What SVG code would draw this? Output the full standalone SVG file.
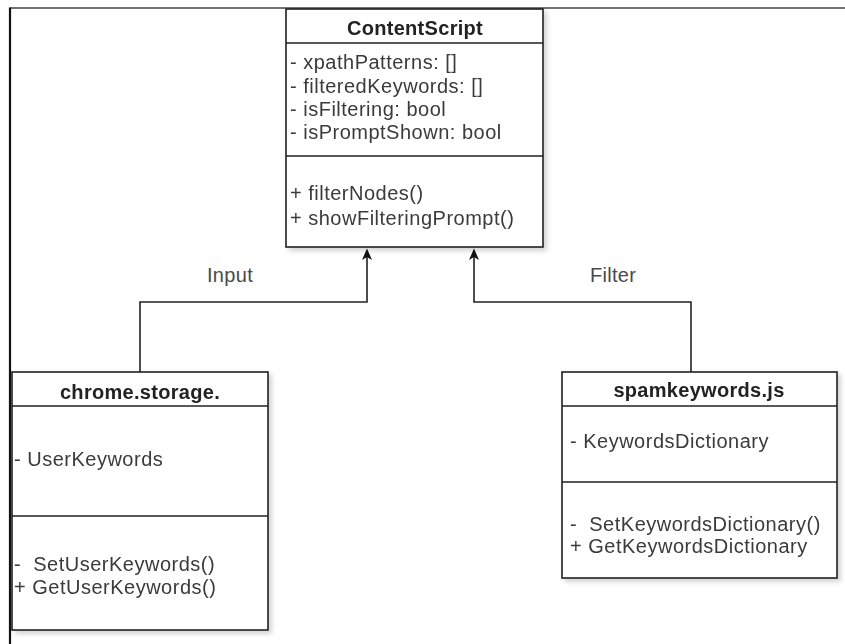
<svg xmlns="http://www.w3.org/2000/svg" width="845" height="644" viewBox="0 0 845 644">
  <style>
    .box { fill: #ffffff; stroke: #222222; stroke-width: 1.6; }
    .sep { stroke: #222222; stroke-width: 1.6; }
    .title { font-family: "Liberation Sans", Arial, sans-serif; font-size: 20px; font-weight: bold; letter-spacing: 0.3px; fill: #222222; text-anchor: middle; }
    .txt { font-family: "Liberation Sans", Arial, sans-serif; font-size: 20px; letter-spacing: 0.5px; fill: #3a3a3a; white-space: pre; }
    .lbl { font-family: "Liberation Sans", Arial, sans-serif; font-size: 20px; letter-spacing: 0.3px; fill: #4a4a4a; text-anchor: middle; }
    .edge { fill: none; stroke: #222222; stroke-width: 1.6; }
    .head { fill: #111111; }
  </style>
  <defs>
    <filter id="shadow" x="-10%" y="-10%" width="130%" height="130%">
      <feGaussianBlur in="SourceAlpha" stdDeviation="2.5"/>
      <feOffset dx="3" dy="3"/>
      <feComponentTransfer><feFuncA type="linear" slope="0.18"/></feComponentTransfer>
      <feMerge><feMergeNode/><feMergeNode in="SourceGraphic"/></feMerge>
    </filter>
  </defs>

  <rect x="0" y="0" width="845" height="644" fill="#ffffff"/>

  <!-- page frame -->
  <g id="frame">
    <line x1="10" y1="8" x2="845" y2="8" stroke="#444444" stroke-width="1.5"/>
    <line x1="10" y1="7.5" x2="10" y2="644" stroke="#111111" stroke-width="2.2"/>
  </g>

  <!-- connectors -->
  <g id="connectors">
    <path class="edge" d="M140,372 L140,302 L367,302 L367,255"/>
    <path class="edge" d="M691,372 L691,302 L474,302 L474,255"/>
    <path class="head" d="M367,248.5 L372,260 L367,257 L362,260 Z"/>
    <path class="head" d="M474,248.5 L479,260 L474,257 L469,260 Z"/>
    <text class="lbl" x="230" y="282">Input</text>
    <text class="lbl" x="613" y="282">Filter</text>
  </g>

  <!-- ContentScript class -->
  <g id="content-script" filter="url(#shadow)">
    <rect class="box" x="286" y="9" width="257" height="238"/>
    <line class="sep" x1="286" y1="43" x2="543" y2="43"/>
    <line class="sep" x1="286" y1="156" x2="543" y2="156"/>
    <text class="title" x="415" y="35">ContentScript</text>
    <text class="txt" x="290" y="69">- xpathPatterns: []</text>
    <text class="txt" x="290" y="93">- filteredKeywords: []</text>
    <text class="txt" x="290" y="116">- isFiltering: bool</text>
    <text class="txt" x="290" y="139">- isPromptShown: bool</text>
    <text class="txt" x="290" y="200">+ filterNodes()</text>
    <text class="txt" x="290" y="225">+ showFilteringPrompt()</text>
  </g>

  <!-- chrome.storage class -->
  <g id="chrome-storage" filter="url(#shadow)">
    <rect class="box" x="12" y="372" width="256" height="258"/>
    <line class="sep" x1="12" y1="406" x2="268" y2="406"/>
    <line class="sep" x1="12" y1="516" x2="268" y2="516"/>
    <text class="title" x="140" y="399">chrome.storage.</text>
    <text class="txt" x="14" y="466">- UserKeywords</text>
    <text class="txt" x="14" y="571">-  SetUserKeywords()</text>
    <text class="txt" x="14" y="594">+ GetUserKeywords()</text>
  </g>

  <!-- spamkeywords.js class -->
  <g id="spamkeywords" filter="url(#shadow)">
    <rect class="box" x="562" y="372" width="275" height="206"/>
    <line class="sep" x1="562" y1="406" x2="837" y2="406"/>
    <line class="sep" x1="562" y1="482" x2="837" y2="482"/>
    <text class="title" x="699" y="397">spamkeywords.js</text>
    <text class="txt" x="570" y="448">- KeywordsDictionary</text>
    <text class="txt" x="570" y="531">-  SetKeywordsDictionary()</text>
    <text class="txt" x="570" y="553">+ GetKeywordsDictionary</text>
  </g>
</svg>
